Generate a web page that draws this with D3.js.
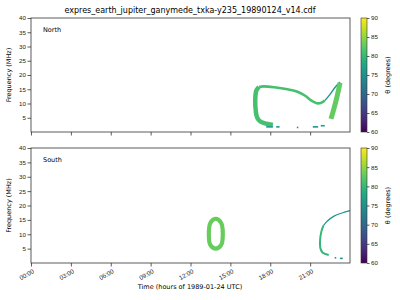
<!DOCTYPE html>
<html>
<head>
<meta charset="utf-8">
<script src="https://cdn.jsdelivr.net/npm/d3@7"></script>
<style>
body { margin: 0; background: #fff; }
svg { font-family: 'DejaVu Sans', sans-serif; }
</style>
</head>
<body>
<script>
// values: [hour UTC, frequency MHz, theta degrees]
const hourTicks = [0, 3, 6, 9, 12, 15, 18, 21];
const freqTicks = [5, 10, 15, 20, 25, 30, 35, 40];
const thetaTicks = [60, 65, 70, 75, 80, 85, 90];

const northLeft = [[17.15, 15.8, 83], [16.95, 14.5, 83], [16.87, 11, 83], [16.92, 7, 83], [17.02, 5, 82], [17.25, 3.7, 80], [17.7, 2.9, 78], [18.2, 2.5, 77]];
const northTop = [[17.15, 15.8, 82], [17.5, 16.0, 82], [18.3, 15.7, 81], [19.3, 15.0, 80], [20.0, 14.2, 79], [20.6, 12.8, 80], [21.1, 11.0, 81], [21.5, 10.1, 82], [21.8, 10.2, 82], [22.1, 11.0, 82]];
const northDiag = [[22.1, 11.0, 76], [22.5, 13.2, 76], [22.9, 15.8, 76], [23.25, 17.5, 76]];
const northRight = [[23.25, 17.3, 83], [23.15, 15, 83], [22.95, 11, 83], [22.75, 7.5, 83], [22.57, 4.6, 82]];
const northDots = [[17.7, 18.2, 1.8, 76], [18.45, 18.7, 1.8, 76], [20.0, 20.1, 1.6, 75], [21.2, 21.6, 1.8, 76], [21.8, 22.1, 2.2, 77]];

const southRing = [[13.9, 15.4, 83], [14.3, 14.0, 83], [14.43, 10.2, 83], [14.3, 6.2, 83], [13.9, 5.0, 83], [13.5, 6.2, 83], [13.38, 10.2, 83], [13.5, 14.0, 83]];
const southArcLow = [[22.0, 13.0, 81], [21.85, 11, 81], [21.75, 8, 81], [21.78, 5, 80], [21.95, 3.6, 79], [22.4, 2.8, 77]];
const southArcHigh = [[22.0, 13.0, 76], [22.3, 14.6, 76], [22.8, 16.3, 75], [23.4, 17.4, 75], [24.0, 18.2, 75]];
const southDots = [[22.85, 22.95, 1.8, 75], [23.25, 23.45, 1.6, 75]];

const W = 400, H = 300;
const left = 31, right = 350;
const panels = [
  { name: 'North', top: 18, bottom: 132, lines: [
      { pts: northLeft, w: 4.5 }, { pts: northTop, w: 2.6 }, { pts: northDiag, w: 1.4 }, { pts: northRight, w: 5 }],
    dots: northDots },
  { name: 'South', top: 148, bottom: 263, lines: [
      { pts: southRing, w: 4.2, closed: true }, { pts: southArcLow, w: 2 }, { pts: southArcHigh, w: 1.2 }],
    dots: southDots }
];

const svg = d3.select('body').append('svg').attr('width', W).attr('height', H);
const color = d3.scaleSequential(d3.interpolateViridis).domain([60, 90]);
const x = d3.scaleLinear().domain([0, 24]).range([left, right]);
const fmt = h => String(h).padStart(2, '0') + ':00';

svg.append('text')
  .attr('x', 190).attr('y', 13)
  .attr('text-anchor', 'middle')
  .attr('font-size', 8)
  .text('expres_earth_jupiter_ganymede_txka-y235_19890124_v14.cdf');

panels.forEach((p, pi) => {
  const y = d3.scaleLinear().domain([0, 40]).range([p.bottom, p.top]);
  const g = svg.append('g');

  const line = d3.line().x(d => x(d[0])).y(d => y(d[1])).curve(d3.curveCatmullRom);
  const lineClosed = d3.line().x(d => x(d[0])).y(d => y(d[1])).curve(d3.curveCatmullRomClosed);

  p.lines.forEach(l => {
    g.append('path')
      .attr('d', l.closed ? lineClosed(l.pts) : line(l.pts))
      .attr('fill', 'none')
      .attr('stroke', color(d3.mean(l.pts, d => d[2])))
      .attr('stroke-width', l.w)
      .attr('stroke-linejoin', 'round');
  });

  g.selectAll('rect.dot')
    .data(p.dots)
    .enter()
    .append('rect')
    .attr('x', d => x(d[0]))
    .attr('width', d => Math.max(1.5, x(d[1]) - x(d[0])))
    .attr('y', d => y(d[2]) - 0.8)
    .attr('height', 1.6)
    .attr('fill', d => color(d[3]));

  // axes
  const xAxis = g.append('g')
    .attr('transform', 'translate(0,' + p.bottom + ')')
    .call(d3.axisBottom(x).tickValues(hourTicks).tickSize(3.5).tickFormat(pi === 1 ? fmt : ''));
  xAxis.select('.domain').remove();
  xAxis.selectAll('line').attr('stroke', '#333').attr('stroke-width', 0.8);
  if (pi === 1) {
    xAxis.selectAll('text')
      .attr('font-size', 6.2)
      .attr('fill', '#222')
      .attr('text-anchor', 'end')
      .attr('dy', 0)
      .attr('transform', 'translate(1,6) rotate(-30)')
      .attr('y', 4).attr('x', 0);
  }

  const yAxis = g.append('g')
    .attr('transform', 'translate(' + left + ',0)')
    .call(d3.axisLeft(y).tickValues(freqTicks).tickSize(3.5));
  yAxis.select('.domain').remove();
  yAxis.selectAll('line').attr('stroke', '#333').attr('stroke-width', 0.8);
  yAxis.selectAll('text').attr('font-size', 6.2).attr('fill', '#222').attr('x', -5);

  g.append('rect')
    .attr('x', left).attr('y', p.top)
    .attr('width', right - left).attr('height', p.bottom - p.top)
    .attr('fill', 'none').attr('stroke', '#333').attr('stroke-width', 0.8);

  g.append('text')
    .attr('transform', 'translate(11,' + (p.top + p.bottom) / 2 + ') rotate(-90)')
    .attr('text-anchor', 'middle')
    .attr('font-size', 6.5)
    .text('Frequency (MHz)');

  g.append('text')
    .attr('x', 43).attr('y', p.top + 14)
    .attr('font-size', 6.5)
    .text(p.name);

  // colour bar
  const cb = svg.append('g');
  const cy = d3.scaleLinear().domain([60, 90]).range([p.bottom, p.top]);
  const gradId = 'grad' + pi;
  const grad = svg.append('defs').append('linearGradient')
    .attr('id', gradId).attr('x1', 0).attr('x2', 0).attr('y1', 1).attr('y2', 0);
  d3.range(0, 1.01, 0.1).forEach(t => {
    grad.append('stop').attr('offset', t).attr('stop-color', d3.interpolateViridis(t));
  });
  cb.append('rect')
    .attr('x', 361).attr('y', p.top)
    .attr('width', 6).attr('height', p.bottom - p.top)
    .attr('fill', 'url(#' + gradId + ')')
    .attr('stroke', '#333').attr('stroke-width', 0.6);
  const cAxis = cb.append('g')
    .attr('transform', 'translate(367,0)')
    .call(d3.axisRight(cy).tickValues(thetaTicks).tickSize(2.5));
  cAxis.select('.domain').remove();
  cAxis.selectAll('line').attr('stroke', '#333').attr('stroke-width', 0.8);
  cAxis.selectAll('text').attr('font-size', 6.2).attr('fill', '#222').attr('x', 4);
  cb.append('text')
    .attr('transform', 'translate(390,' + (p.top + p.bottom) / 2 + ') rotate(-90)')
    .attr('text-anchor', 'middle')
    .attr('font-size', 6.5)
    .text('θ (degrees)');
});

svg.append('text')
  .attr('x', 190).attr('y', 289)
  .attr('text-anchor', 'middle')
  .attr('font-size', 6.5)
  .text('Time (hours of 1989-01-24 UTC)');
</script>
</body>
</html>
